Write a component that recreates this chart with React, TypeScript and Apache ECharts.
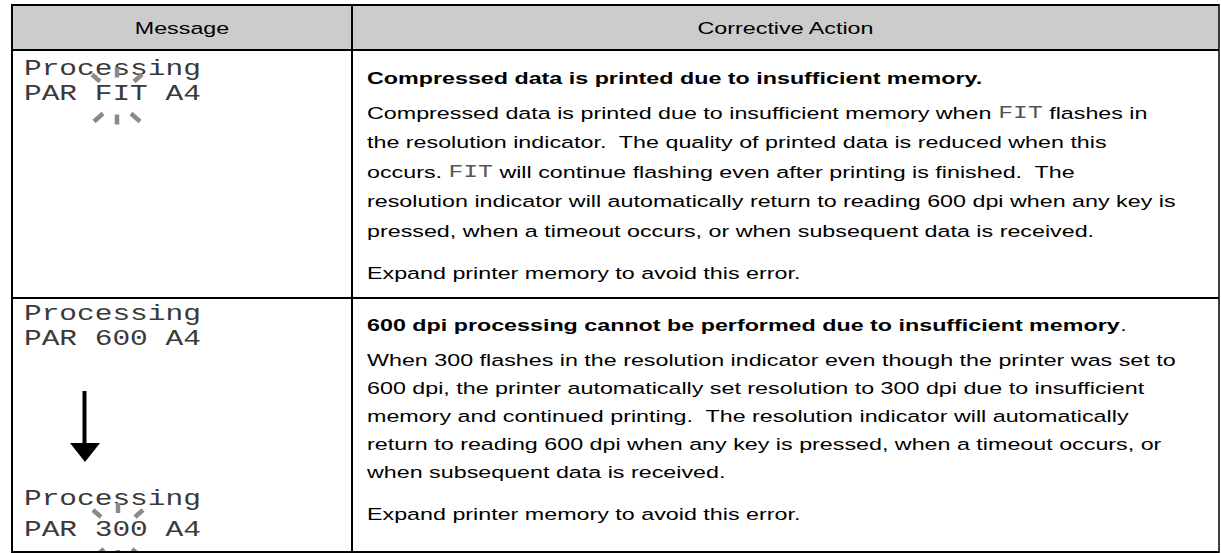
import React, { useEffect, useRef } from "react";
import * as echarts from "echarts";

const headers = ["Message", "Corrective Action"];

const row1Display = ["Processing", "PAR FIT A4"];
const row2DisplayBefore = ["Processing", "PAR 600 A4"];
const row2DisplayAfter = ["Processing", "PAR 300 A4"];

const row1Title = "Compressed data is printed due to insufficient memory.";
const row1Body = [
  "Compressed data is printed due to insufficient memory when {m|FIT} flashes in",
  "the resolution indicator.  The quality of printed data is reduced when this",
  "occurs. {m|FIT} will continue flashing even after printing is finished.  The",
  "resolution indicator will automatically return to reading 600 dpi when any key is",
  "pressed, when a timeout occurs, or when subsequent data is received.",
];
const row1Action = "Expand printer memory to avoid this error.";

const row2Title = "{b|600 dpi processing cannot be performed due to insufficient memory}.";
const row2Body = [
  "When 300 flashes in the resolution indicator even though the printer was set to",
  "600 dpi, the printer automatically set resolution to 300 dpi due to insufficient",
  "memory and continued printing.  The resolution indicator will automatically",
  "return to reading 600 dpi when any key is pressed, when a timeout occurs, or",
  "when subsequent data is received.",
];
const row2Action = "Expand printer memory to avoid this error.";

const SANS = "'Liberation Sans', Arial, Helvetica, sans-serif";
const MONO = "'Liberation Mono', 'DejaVu Sans Mono', monospace";

export default function App() {
  const ref = useRef<HTMLDivElement>(null);

  useEffect(() => {
    document.body.style.margin = "0";
    if (!ref.current) return;
    const chart = echarts.init(ref.current, undefined, { renderer: "svg" });

    const L = 12, R = 1219, T = 5, B = 552, HB = 50, COL = 352, ROW = 298;
    const TX = 367;
    const SX = 1.37;
    const elements: any[] = [];

    elements.push({ type: "rect", shape: { x: L, y: T, width: R - L, height: HB - T }, style: { fill: "#cccccc" }, z: 1 });

    elements.push({ type: "text", x: (L + COL) / 2, y: 28.5, scaleX: SX, style: { text: headers[0], font: `17px ${SANS}`, fill: "#000", align: "center", verticalAlign: "middle" }, z: 5 });
    elements.push({ type: "text", x: (COL + R) / 2, y: 28.5, scaleX: SX, style: { text: headers[1], font: `17px ${SANS}`, fill: "#000", align: "center", verticalAlign: "middle" }, z: 5 });

    const disp = (lines: string[], ys: number[]) => {
      lines.forEach((t, i) => {
        elements.push({
          type: "text", x: 24, y: ys[i], scaleX: 1.34,
          style: { text: t, font: `22px ${MONO}`, fill: "#3a3a3a", align: "left", verticalAlign: "middle" },
          z: 5,
        });
      });
    };
    disp(row1Display, [69.5, 94.5]);
    disp(row2DisplayBefore, [314.5, 339.5]);
    disp(row2DisplayAfter, [499.5, 530.5]);

    const flash = (cx: number, cy: number) => {
      const segs = [
        [[-25, -22], [-17, -15]],
        [[0, -29], [0, -19]],
        [[25, -22], [17, -15]],
        [[-23, 25], [-14, 17]],
        [[0, 28], [0, 18]],
        [[23, 25], [14, 17]],
      ];
      segs.forEach((s) => {
        elements.push({
          type: "line",
          shape: { x1: cx + s[0][0], y1: cy + s[0][1], x2: cx + s[1][0], y2: cy + s[1][1] },
          style: { stroke: "#8a8a8a", lineWidth: 4.5 },
          z: 6,
        });
      });
    };
    flash(117, 96.5);
    flash(118, 532);

    elements.push({ type: "line", shape: { x1: 84.5, y1: 391, x2: 84.5, y2: 446 }, style: { stroke: "#000", lineWidth: 4 }, z: 5 });
    elements.push({ type: "polygon", shape: { points: [[70, 443], [100, 443], [85, 462]] }, style: { fill: "#000" }, z: 5 });

    const rich = {
      m: { font: `18px ${MONO}`, fill: "#555" },
      b: { font: `bold 17px ${SANS}`, fill: "#000" },
    };
    const txt = (t: string, y: number, bold = false) => {
      elements.push({
        type: "text", x: TX, y, scaleX: SX,
        style: { text: t, font: `${bold ? "bold " : ""}17px ${SANS}`, fill: "#000", align: "left", verticalAlign: "middle", rich },
        z: 5,
      });
    };

    txt(row1Title, 78, true);
    row1Body.forEach((t, i) => txt(t, 113 + i * 29.5));
    txt(row1Action, 273);

    txt(row2Title, 325);
    row2Body.forEach((t, i) => txt(t, 360 + i * 28));
    txt(row2Action, 514);

    const ln = (x1: number, y1: number, x2: number, y2: number, w = 2) =>
      elements.push({ type: "line", shape: { x1, y1, x2, y2 }, style: { stroke: "#000", lineWidth: w }, z: 10 });
    ln(L, T, R, T);
    ln(L, B, R, B);
    ln(L, T - 1, L, B + 1);
    ln(R, T - 1, R, B + 1, 1.5);
    ln(L, HB, R, HB);
    ln(L, ROW, R, ROW);
    ln(COL, T, COL, B);

    chart.setOption({
      animation: false,
      graphic: { elements },
    });

    return () => chart.dispose();
  }, []);

  return <div ref={ref} style={{ width: 1221, height: 553, background: "#fff" }} />;
}
